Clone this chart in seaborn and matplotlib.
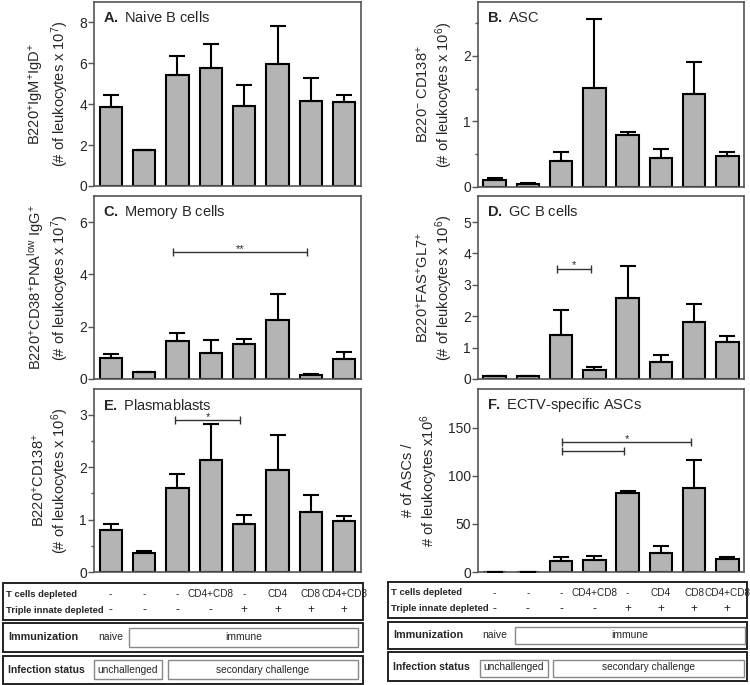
import numpy as np
import pandas as pd
import matplotlib
matplotlib.use("Agg")
import matplotlib.pyplot as plt
import matplotlib.transforms as mtransforms
from matplotlib.patches import Rectangle
import seaborn as sns

# groups (bars) and their treatment rows
groups = ["g1", "g2", "g3", "g4", "g5", "g6", "g7", "g8"]
t_cells = ["-", "-", "-", "CD4+CD8", "-", "CD4", "CD8", "CD4+CD8"]
triple = ["-", "-", "-", "-", "+", "+", "+", "+"]

# mean values and top of error bar (mean + SEM)
naive_b = [3.87, 1.74, 5.43, 5.77, 3.93, 5.95, 4.16, 4.10]
naive_b_top = [4.46, 1.78, 6.37, 6.97, 4.92, 7.85, 5.29, 4.43]

asc = [0.10, 0.05, 0.40, 1.51, 0.80, 0.44, 1.42, 0.48]
asc_top = [0.13, 0.06, 0.54, 2.56, 0.84, 0.58, 1.90, 0.54]

memory_b = [0.81, 0.25, 1.46, 1.00, 1.32, 2.26, 0.15, 0.76]
memory_b_top = [0.95, 0.27, 1.77, 1.49, 1.53, 3.25, 0.19, 1.02]

gc_b = [0.08, 0.08, 1.41, 0.30, 2.58, 0.54, 1.82, 1.18]
gc_b_top = [0.10, 0.10, 2.21, 0.37, 3.60, 0.78, 2.40, 1.36]

plasmablasts = [0.81, 0.37, 1.61, 2.13, 0.92, 1.95, 1.14, 0.97]
plasmablasts_top = [0.92, 0.40, 1.86, 2.82, 1.08, 2.62, 1.47, 1.06]

ectv_asc = [0.3, 0.3, 11.1, 12.4, 81.9, 20.1, 86.7, 13.2]
ectv_asc_top = [0.3, 0.3, 15.5, 16.3, 84.0, 27.0, 115.8, 15.5]

W, H = 750, 685
BAR = "#b4b4b4"
SPINE = "#555555"
NARROW = ["Liberation Sans Narrow", "Liberation Sans"]

sns.set_style("white")
plt.rcParams["font.family"] = ["Liberation Sans", "DejaVu Sans"]
plt.rcParams["mathtext.fontset"] = "custom"
plt.rcParams["mathtext.rm"] = "Liberation Sans"
plt.rcParams["mathtext.it"] = "Liberation Sans"
plt.rcParams["mathtext.bf"] = "Liberation Sans:bold"
plt.rcParams["mathtext.default"] = "regular"

fig = plt.figure(figsize=(W / 100, H / 100), dpi=100)
over = fig.add_axes([0, 0, 1, 1], zorder=-1)
over.set_xlim(0, W)
over.set_ylim(H, 0)
over.axis("off")


def bar_panel(rect, values, tops, ylim, yticks, minor, title, ylabel, sigs=()):
    l, t, r, b = rect
    ax = fig.add_axes([l / W, 1 - b / H, (r - l) / W, (b - t) / H])
    df = pd.DataFrame({"group": groups, "value": values})
    sns.barplot(data=df, x="group", y="value", order=groups, color=BAR,
                saturation=1, edgecolor="black", linewidth=1.5, width=0.67,
                errorbar=None, ax=ax)
    x = np.arange(len(groups))
    v = np.array(values)
    ax.errorbar(x, v, yerr=[np.zeros_like(v), np.array(tops) - v], fmt="none",
                ecolor="black", elinewidth=1.5, capsize=6, capthick=1.5, zorder=3)
    ax.set_ylim(*ylim)
    ax.set_xlim(-0.5, 7.5)
    ax.set_yticks(yticks)
    if minor is not None:
        ax.set_yticks(minor, minor=True)
    ax.set_xticks([])
    ax.set_xlabel("")
    ax.set_ylabel(ylabel, fontsize=10.5, linespacing=1.2, labelpad=6)
    ax.tick_params(axis="y", which="major", length=4, width=1, color=SPINE,
                   labelsize=10, pad=1, left=True)
    ax.tick_params(axis="y", which="minor", length=2.5, width=1, color=SPINE, left=True)
    for s in ax.spines.values():
        s.set_color(SPINE)
        s.set_linewidth(1.2)
    ax.text(9 / (r - l), 1 - 16 / (b - t), title, transform=ax.transAxes,
            fontsize=10.5, va="center", ha="left")
    for x1, x2, y, label in sigs:
        ax.plot([x1, x2], [y, y], color="#333333", lw=1, marker="|", markersize=6,
                markeredgewidth=1)
        if label:
            ax.text((x1 + x2) / 2, y, label, ha="center", va="baseline", fontsize=8)
    return ax


def table(ax, x0, x1, tbox, ibox, sbox, naive_box, unch_box, sec_box):
    tr = mtransforms.blended_transform_factory(ax.transData, over.transData)
    lw_out = 1.4
    # treatment rows
    over.add_patch(Rectangle((x0, tbox[0]), x1 - x0, tbox[1] - tbox[0], fill=False,
                             lw=lw_out, ec="#222222"))
    r1 = tbox[0] + (tbox[1] - tbox[0]) * 0.3
    r2 = tbox[0] + (tbox[1] - tbox[0]) * 0.74
    over.text(x0 + 3, r1, "T cells depleted", fontsize=6.8, fontweight="bold", va="center")
    over.text(x0 + 3, r2, "Triple innate depleted", fontsize=6.8, fontweight="bold", va="center")
    for i, (a, b) in enumerate(zip(t_cells, triple)):
        over.text(i, r1, a, transform=tr, ha="center", va="center", fontsize=7.2, family=NARROW)
        over.text(i, r2, b, transform=tr, ha="center", va="center", fontsize=8.5)
    # immunization
    over.add_patch(Rectangle((x0, ibox[0]), x1 - x0, ibox[1] - ibox[0], fill=False,
                             lw=lw_out, ec="#222222"))
    ym = (ibox[0] + ibox[1]) / 2
    over.text(x0 + 5, ym, "Immunization", fontsize=7.8, fontweight="bold", va="center")
    over.text(0, ym, "naive", transform=tr, ha="center", va="center", fontsize=7.5, family=NARROW)
    over.add_patch(Rectangle((naive_box[0], naive_box[2]), naive_box[1] - naive_box[0],
                             naive_box[3] - naive_box[2], fill=False, lw=1, ec="#888888"))
    over.text((naive_box[0] + naive_box[1]) / 2, ym, "immune", ha="center", va="center",
              fontsize=7.5, family=NARROW)
    # infection status
    over.add_patch(Rectangle((x0, sbox[0]), x1 - x0, sbox[1] - sbox[0], fill=False,
                             lw=lw_out, ec="#222222"))
    ym = (sbox[0] + sbox[1]) / 2
    over.text(x0 + 5, ym, "Infection status", fontsize=7.5, fontweight="bold", va="center")
    for bx, label in [(unch_box, "unchallenged"), (sec_box, "secondary challenge")]:
        over.add_patch(Rectangle((bx[0], bx[2]), bx[1] - bx[0], bx[3] - bx[2], fill=False,
                                 lw=1, ec="#888888"))
        over.text((bx[0] + bx[1]) / 2, ym, label, ha="center", va="center", fontsize=7.3,
                  family=NARROW)


ax_a = bar_panel((94, 2, 361, 186), naive_b, naive_b_top, (0, 9), [0, 2, 4, 6, 8], None,
                 r"$\mathbf{A.}$ Naive B cells",
                 "B220$^{+}$IgM$^{+}$IgD$^{+}$\n(# of leukocytes x 10$^{7}$)")
ax_b = bar_panel((478, 2, 744, 187), asc, asc_top, (0, 2.82), [0, 1, 2], [0.5, 1.5, 2.5],
                 r"$\mathbf{B.}$ ASC",
                 "B220$^{-}$ CD138$^{+}$\n(# of leukocytes x 10$^{6}$)")
ax_c = bar_panel((94, 196, 361, 379), memory_b, memory_b_top, (0, 7), [0, 2, 4, 6], None,
                 r"$\mathbf{C.}$ Memory B cells",
                 "B220$^{+}$CD38$^{+}$PNA$^{low}$ IgG$^{+}$\n(# of leukocytes x 10$^{7}$)",
                 sigs=[(1.87, 5.87, 4.86, "**")])
ax_d = bar_panel((478, 196, 744, 379), gc_b, gc_b_top, (0, 5.83), [0, 1, 2, 3, 4, 5], None,
                 r"$\mathbf{D.}$ GC B cells",
                 "B220$^{+}$FAS$^{+}$GL7$^{+}$\n(# of leukocytes x 10$^{6}$)",
                 sigs=[(1.87, 2.9, 3.52, "*")])
ax_e = bar_panel((94, 389, 361, 572), plasmablasts, plasmablasts_top, (0, 3.49), [0, 1, 2, 3],
                 [0.5, 1.5, 2.5], r"$\mathbf{E.}$ Plasmablasts",
                 "B220$^{+}$CD138$^{+}$\n(# of leukocytes x 10$^{6}$)",
                 sigs=[(1.92, 3.88, 2.90, "*")])
ax_f = bar_panel((478, 389, 744, 572), ectv_asc, ectv_asc_top, (0, 190), [0, 50, 100, 150], None,
                 r"$\mathbf{F.}$ ECTV-specific ASCs",
                 "# of ASCs /\n# of leukocytes x10$^{6}$",
                 sigs=[(2.04, 5.91, 135.4, "*"), (2.04, 3.89, 125.4, "")])

table(ax_e, 3, 363, (583, 620), (623, 652), (656, 684),
      (129, 358, 628, 647), (94, 162, 660, 679), (168, 358, 660, 679))
table(ax_f, 388, 747, (582, 618), (622, 649), (652, 681),
      (515, 745, 627, 644), (480, 548, 660, 677), (553, 744, 660, 677))

fig.savefig("out.png", dpi=100, facecolor="white")
